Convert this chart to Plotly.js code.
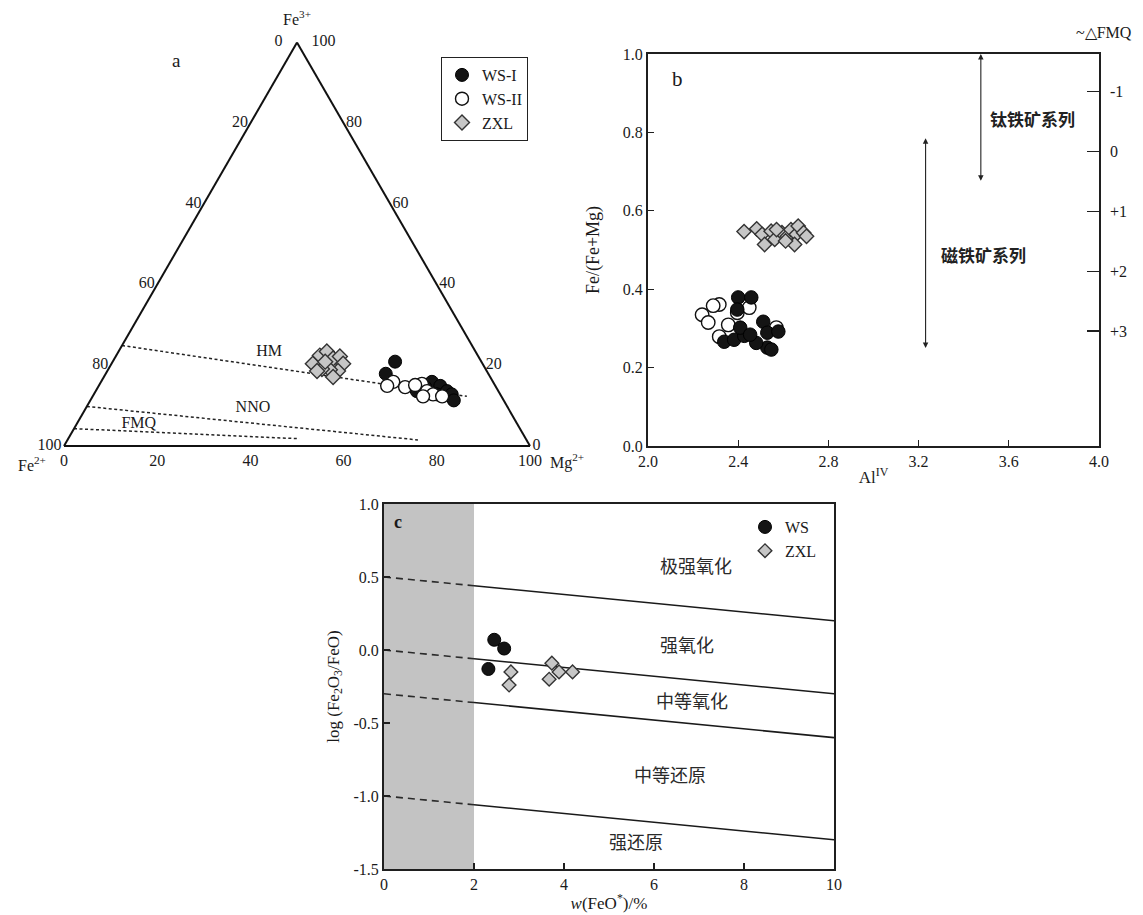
<!DOCTYPE html>
<html>
<head>
<meta charset="utf-8">
<script src="https://cdn.plot.ly/plotly-3.0.1.min.js"></script>
<style>
  html, body { margin: 0; padding: 0; background: #fff; }
  #chart { width: 1143px; height: 915px; }
</style>
</head>
<body>
<div id="chart"></div>
<script>
// ---------- (a) Fe3+ – Fe2+ – Mg2+ ternary (atomic %) ----------
const wsI_fe3 = [20.9, 17.9, 15.9, 14.9, 13.6, 12.8, 11.3, 13.6, 12.8, 14.6];
const wsI_fe2 = [18.5, 22.0, 13.1, 11.8, 11.0, 10.4, 10.7, 17.5, 13.6, 15.2];
const wsI_mg  = [60.6, 60.1, 71.0, 73.3, 75.4, 76.8, 78.0, 68.9, 73.6, 70.2];

const wsII_fe3 = [15.9, 14.6, 15.4, 13.6, 12.8, 12.3, 12.3, 14.9, 15.1];
const wsII_fe2 = [21.4, 19.5, 15.5, 15.3, 14.4, 12.7, 16.8, 23.2, 17.1];
const wsII_mg  = [62.7, 65.9, 69.1, 71.1, 72.8, 75.0, 70.9, 61.9, 67.8];

const zxl_fe3 = [20.4, 22.4, 23.4, 21.7, 22.2, 20.4, 18.6, 18.9, 19.1, 18.6, 17.1, 20.9];
const zxl_fe2 = [36.4, 33.9, 31.9, 31.4, 29.7, 29.9, 31.9, 33.5, 35.1, 36.4, 33.7, 33.5];
const zxl_mg  = [43.2, 43.7, 44.7, 46.9, 48.1, 49.7, 49.5, 47.6, 45.8, 45.0, 49.2, 45.6];

// oxygen buffers (end points of each line): [Fe3+, Fe2+, Mg2+]
const bufferNames = ['HM', 'NNO', 'FMQ'];
const bufferFe3 = [[24.9, 12.3], [9.8, 1.5], [4.3, 1.8]];
const bufferFe2 = [[75.1, 7.4], [90.2, 23.3], [95.7, 48.6]];
const bufferMg  = [[0.0, 80.3], [0.0, 75.2], [0.0, 49.6]];
// where each buffer name is written
const bufferLabelFe3 = [23.4, 9.3, 5.5];
const bufferLabelFe2 = [44.3, 54.8, 81.2];
const bufferLabelMg  = [32.3, 35.9, 13.3];

const triTicks = [0, 20, 40, 60, 80, 100];

// ---------- (b) AlIV vs Fe/(Fe+Mg) ----------
const b_wsI_al  = [2.400, 2.458, 2.338, 2.382, 2.427, 2.511, 2.529, 2.578, 2.529, 2.547, 2.480, 2.409, 2.453, 2.396];
const b_wsI_fe  = [0.379, 0.379, 0.266, 0.271, 0.281, 0.317, 0.289, 0.292, 0.251, 0.246, 0.263, 0.302, 0.284, 0.348];
const b_wsII_al = [2.240, 2.267, 2.316, 2.356, 2.396, 2.449, 2.316, 2.569, 2.289];
const b_wsII_fe = [0.335, 0.315, 0.361, 0.309, 0.340, 0.353, 0.279, 0.302, 0.358];
const b_zxl_al  = [2.426, 2.482, 2.506, 2.546, 2.517, 2.562, 2.594, 2.618, 2.634, 2.658, 2.666, 2.690, 2.703, 2.650, 2.610, 2.570];
const b_zxl_fe  = [0.547, 0.554, 0.540, 0.548, 0.514, 0.527, 0.544, 0.535, 0.552, 0.540, 0.561, 0.544, 0.535, 0.514, 0.523, 0.552];

const bAlTicks = [2.0, 2.4, 2.8, 3.2, 3.6, 4.0];
const bFeTicks = [0.0, 0.2, 0.4, 0.6, 0.8, 1.0];
const fmqTicks = [-1, 0, 1, 2, 3];
const fmqText  = ['-1', '0', '+1', '+2', '+3'];
// series ranges in Fe/(Fe+Mg)
const ilmeniteSeries  = {name: '钛铁矿系列', top: 1.0, bottom: 0.673};
const magnetiteSeries = {name: '磁铁矿系列', top: 0.785, bottom: 0.246};

// ---------- (c) w(FeO*) vs log(Fe2O3/FeO) ----------
const c_ws_feo  = [2.45, 2.67, 2.32];
const c_ws_log  = [0.07, 0.01, -0.13];
const c_zxl_feo = [2.82, 2.78, 3.73, 3.89, 3.67, 4.19];
const c_zxl_log = [-0.15, -0.24, -0.09, -0.15, -0.20, -0.15];

const c_boundaryFeo = [0, 2, 10];
const c_boundaries = [
  [0.50, 0.44, 0.20],
  [0.00, -0.06, -0.30],
  [-0.30, -0.36, -0.60],
  [-1.00, -1.06, -1.30]
];
const c_regions = ['极强氧化', '强氧化', '中等氧化', '中等还原', '强还原'];
const c_lowFeoLimit = 2;
const cFeoTicks = [0, 2, 4, 6, 8, 10];
const cLogTicks = [-1.5, -1.0, -0.5, 0.0, 0.5, 1.0];

// ---------- layout helpers ----------
const W = 1143, H = 915;
const px = v => v / W;
const py = v => 1 - v / H;
const serif = "'Liberation Serif', 'Times New Roman', serif";
const cjk = "'Noto Sans CJK SC', sans-serif";
const ink = '#1a1a1a';
const nb = '\u00a0';

const mkWS1 = size => ({symbol: 'circle', size: size, color: '#141414', line: {color: '#000', width: 1}});
const mkWS2 = size => ({symbol: 'circle', size: size, color: '#ffffff', line: {color: '#111', width: 1.4}});
const mkZXL = size => ({symbol: 'diamond', size: size, color: '#c6c6c6', line: {color: '#333', width: 1.4}});

const traces = [];

// (a) buffer lines
bufferNames.forEach((n, i) => {
  traces.push({
    type: 'scatterternary', mode: 'lines', subplot: 'ternary',
    a: bufferFe3[i], b: bufferFe2[i], c: bufferMg[i],
    line: {color: '#222', width: 1.5, dash: '3px,2.5px'},
    showlegend: false, hoverinfo: 'skip'
  });
});
traces.push({
  type: 'scatterternary', mode: 'text', subplot: 'ternary',
  a: bufferLabelFe3, b: bufferLabelFe2, c: bufferLabelMg, text: bufferNames,
  textfont: {family: serif, size: 16, color: ink},
  showlegend: false, hoverinfo: 'skip'
});
traces.push({
  type: 'scatterternary', mode: 'markers', name: 'WS-I', subplot: 'ternary',
  a: wsI_fe3, b: wsI_fe2, c: wsI_mg, marker: mkWS1(13)
});
traces.push({
  type: 'scatterternary', mode: 'markers', name: 'WS-II', subplot: 'ternary',
  a: wsII_fe3, b: wsII_fe2, c: wsII_mg, marker: mkWS2(13)
});
traces.push({
  type: 'scatterternary', mode: 'markers', name: 'ZXL', subplot: 'ternary',
  a: zxl_fe3, b: zxl_fe2, c: zxl_mg, marker: mkZXL(11.5)
});

// (b)
traces.push({
  type: 'scatter', mode: 'markers', xaxis: 'x2', yaxis: 'y2',
  x: b_wsII_al, y: b_wsII_fe, marker: mkWS2(13.5), showlegend: false
});
traces.push({
  type: 'scatter', mode: 'markers', xaxis: 'x2', yaxis: 'y2',
  x: b_wsI_al, y: b_wsI_fe, marker: mkWS1(13.5), showlegend: false
});
traces.push({
  type: 'scatter', mode: 'markers', xaxis: 'x2', yaxis: 'y2',
  x: b_zxl_al, y: b_zxl_fe, marker: mkZXL(11), showlegend: false
});
// empty trace carrying the right-hand ΔFMQ axis
traces.push({
  type: 'scatter', mode: 'markers', xaxis: 'x2', yaxis: 'y3',
  x: [], y: [], showlegend: false, hoverinfo: 'skip'
});

// (c) boundary lines: dashed below the FeO* limit, solid above it
c_boundaries.forEach(bd => {
  traces.push({
    type: 'scatter', mode: 'lines', xaxis: 'x3', yaxis: 'y4',
    x: c_boundaryFeo.slice(0, 2), y: bd.slice(0, 2),
    line: {color: '#2a2a2a', width: 1.6, dash: '7px,5px'},
    showlegend: false, hoverinfo: 'skip'
  });
  traces.push({
    type: 'scatter', mode: 'lines', xaxis: 'x3', yaxis: 'y4',
    x: c_boundaryFeo.slice(1), y: bd.slice(1),
    line: {color: '#1a1a1a', width: 1.6},
    showlegend: false, hoverinfo: 'skip'
  });
});
traces.push({
  type: 'scatter', mode: 'markers', name: 'WS', xaxis: 'x3', yaxis: 'y4',
  x: c_ws_feo, y: c_ws_log, marker: mkWS1(13), legend: 'legend2'
});
traces.push({
  type: 'scatter', mode: 'markers', name: 'ZXL', xaxis: 'x3', yaxis: 'y4',
  x: c_zxl_feo, y: c_zxl_log, marker: mkZXL(10.5), legend: 'legend2'
});

const tickFont = {family: serif, size: 16, color: ink};

// Edge labels read counter-clockwise: left edge = Fe2+, bottom = Mg2+, right = Fe3+.
const triAxis = (title, labelFn) => ({
  title: {text: title, font: {family: serif, size: 16, color: ink}},
  min: 0,
  tickmode: 'array', tickvals: triTicks, ticktext: triTicks.map(labelFn),
  ticks: '', showgrid: false, showline: true,
  linecolor: '#111', linewidth: 2,
  tickfont: tickFont
});

const frameAxis = {
  showline: true, mirror: true, linecolor: '#1f1f1f', linewidth: 2,
  showgrid: false, zeroline: false,
  ticks: 'inside', ticklen: 6, tickwidth: 1.3, tickcolor: '#1f1f1f',
  tickfont: tickFont
};

// region labels in (c), one per band between boundary lines
const c_regionX = [6.93, 6.74, 6.84, 6.36, 5.61];
const c_regionY = [0.58, 0.04, -0.34, -0.85, -1.31];

const note = (o) => Object.assign({showarrow: false, xanchor: 'center', yanchor: 'middle'}, o);

const annotations = [
  note({text: 'a', xref: 'paper', yref: 'paper', x: px(176), y: py(61),
        font: {family: serif, size: 19, color: ink}}),
  note({text: 'Fe<sup>2+</sup>', xref: 'paper', yref: 'paper', x: px(32), y: py(464),
        font: {family: serif, size: 16, color: ink}}),
  note({text: 'Mg<sup>2+</sup>', xref: 'paper', yref: 'paper', x: px(567), y: py(461),
        font: {family: serif, size: 16, color: ink}}),
  note({text: 'b', xref: 'x2', yref: 'y2', x: 2.13, y: 0.935,
        font: {family: serif, size: 21, color: ink}}),
  note({text: '<b>c</b>', xref: 'x3', yref: 'y4', x: 0.3, y: 0.88,
        font: {family: serif, size: 18, color: ink}}),
  note({text: '~△FMQ', xref: 'paper', yref: 'paper', x: px(1104), y: py(33),
        font: {family: serif, size: 16, color: ink}}),
  // ilmenite / magnetite series ranges
  {xref: 'x2', yref: 'y2', axref: 'x2', ayref: 'y2',
   x: 3.476, y: ilmeniteSeries.top, ax: 3.476, ay: ilmeniteSeries.bottom, text: '',
   showarrow: true, arrowside: 'end+start', arrowhead: 2, startarrowhead: 2,
   arrowsize: 1, startarrowsize: 1, arrowwidth: 1.1, arrowcolor: '#222'},
  {xref: 'x2', yref: 'y2', axref: 'x2', ayref: 'y2',
   x: 3.231, y: magnetiteSeries.top, ax: 3.231, ay: magnetiteSeries.bottom, text: '',
   showarrow: true, arrowside: 'end+start', arrowhead: 2, startarrowhead: 2,
   arrowsize: 1, startarrowsize: 1, arrowwidth: 1.1, arrowcolor: '#222'},
  note({text: ilmeniteSeries.name, xref: 'x2', yref: 'y2', x: 3.707, y: 0.836,
        font: {family: cjk, size: 17, color: '#222', weight: 'bold'}}),
  note({text: magnetiteSeries.name, xref: 'x2', yref: 'y2', x: 3.489, y: 0.488,
        font: {family: cjk, size: 17, color: '#222', weight: 'bold'}})
];
c_regions.forEach((t, i) => {
  annotations.push(note({text: t, xref: 'x3', yref: 'y4', x: c_regionX[i], y: c_regionY[i],
    font: {family: cjk, size: 18, color: '#2a2a2a'}}));
});

const triTop = 446 - 466 * Math.sqrt(3) / 2;

const layout = {
  width: W, height: H,
  margin: {l: 0, r: 0, t: 0, b: 0},
  paper_bgcolor: '#ffffff',
  plot_bgcolor: 'rgba(0,0,0,0)',
  showlegend: true,
  ternary: {
    domain: {x: [px(64), px(530)], y: [py(446), py(triTop)]},
    sum: 100,
    bgcolor: '#ffffff',
    // left edge: "0" sits left of the apex
    aaxis: triAxis('Fe<sup>3+</sup>', v => v === 100 ? '0' + nb + nb + nb : String(100 - v)),
    baxis: triAxis('', v => String(100 - v)),
    // right edge: "100" sits right of the apex
    caxis: triAxis('', v => v === 0 ? nb + nb + nb + '100' : String(100 - v))
  },
  xaxis2: Object.assign({}, frameAxis, {
    domain: [px(648), px(1099)], anchor: 'y2', range: [2, 4],
    tickmode: 'array', tickvals: bAlTicks, ticktext: bAlTicks.map(v => v.toFixed(1)),
    title: {text: 'Al<sup>IV</sup>', font: {family: serif, size: 17, color: ink}, standoff: 2}
  }),
  yaxis2: Object.assign({}, frameAxis, {
    domain: [py(446), py(54)], anchor: 'x2', range: [0, 1],
    tickmode: 'array', tickvals: bFeTicks, ticktext: bFeTicks.map(v => v.toFixed(1)),
    title: {text: 'Fe/(Fe+Mg)', font: {family: serif, size: 18, color: ink}, standoff: 18}
  }),
  yaxis3: {
    overlaying: 'y2', side: 'right', anchor: 'x2', range: [4.92, -1.63],
    tickmode: 'array', tickvals: fmqTicks, ticktext: fmqText,
    ticks: 'inside', ticklen: 12, tickwidth: 1.3, tickcolor: '#1f1f1f',
    ticklabelstandoff: 10,
    showline: false, showgrid: false, zeroline: false,
    tickfont: tickFont
  },
  xaxis3: Object.assign({}, frameAxis, {
    domain: [px(384), px(834)], anchor: 'y4', range: [0, 10],
    tickmode: 'array', tickvals: cFeoTicks, ticktext: cFeoTicks.map(String),
    title: {text: '<i>w</i>(FeO<sup>*</sup>)/%', font: {family: serif, size: 17, color: ink}, standoff: 5}
  }),
  yaxis4: Object.assign({}, frameAxis, {
    domain: [py(869), py(504)], anchor: 'x3', range: [-1.5, 1.0],
    tickmode: 'array', tickvals: cLogTicks, ticktext: cLogTicks.map(v => v.toFixed(1)),
    title: {text: 'log (Fe<sub>2</sub>O<sub>3</sub>/FeO)', font: {family: serif, size: 17, color: ink}, standoff: 10}
  }),
  shapes: [{
    type: 'rect', xref: 'x3', yref: 'y4', x0: 0, x1: c_lowFeoLimit, y0: -1.5, y1: 1.0,
    fillcolor: '#c3c3c3', line: {width: 0}, layer: 'below'
  }],
  legend: {
    x: px(441), y: py(57), xanchor: 'left', yanchor: 'top',
    bgcolor: '#ffffff', bordercolor: '#222', borderwidth: 1,
    font: {family: serif, size: 16, color: ink},
    itemsizing: 'trace', tracegroupgap: 0
  },
  legend2: {
    x: px(745), y: py(510), xanchor: 'left', yanchor: 'top',
    bgcolor: 'rgba(0,0,0,0)', borderwidth: 0,
    font: {family: serif, size: 16, color: ink},
    itemsizing: 'trace', tracegroupgap: 0
  },
  annotations: annotations
};

Plotly.newPlot('chart', traces, layout, {displayModeBar: false, staticPlot: true});
</script>
</body>
</html>
